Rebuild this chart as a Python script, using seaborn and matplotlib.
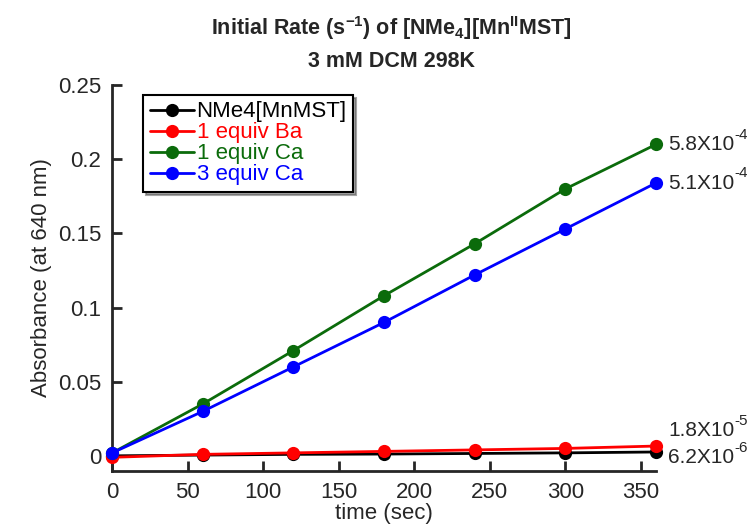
import matplotlib
matplotlib.use("Agg")
import matplotlib.pyplot as plt
import seaborn as sns
import pandas as pd

time = [0, 60, 120, 180, 240, 300, 360]
abs_nme4 = [0.0, 0.0005, 0.001, 0.0012, 0.0016, 0.002, 0.0026]
abs_ba1 = [-0.001, 0.001, 0.002, 0.003, 0.004, 0.005, 0.0066]
abs_ca1 = [0.002, 0.035, 0.071, 0.108, 0.143, 0.180, 0.210]
abs_ca3 = [0.002, 0.030, 0.060, 0.090, 0.122, 0.153, 0.184]
series = ["NMe4[MnMST]", "1 equiv Ba", "1 equiv Ca", "3 equiv Ca"]
colors = ["#000000", "#ff0000", "#0b6b0b", "#0000ff"]
rate_base = ["5.8X10", "5.1X10", "1.8X10", "6.2X10"]
rate_exp = ["-4", "-4", "-5", "-6"]

rows = []
for name, vals in zip(series, [abs_nme4, abs_ba1, abs_ca1, abs_ca3]):
    for t, v in zip(time, vals):
        rows.append({"time": t, "abs": v, "series": name})
df = pd.DataFrame(rows)

sns.set_style("ticks")
plt.rcParams["font.family"] = ["Liberation Sans", "DejaVu Sans"]
plt.rcParams["mathtext.fontset"] = "custom"
plt.rcParams["mathtext.rm"] = "Liberation Sans"
plt.rcParams["mathtext.it"] = "Liberation Sans"
plt.rcParams["mathtext.bf"] = "Liberation Sans:bold"
plt.rcParams["xtick.direction"] = "in"
plt.rcParams["ytick.direction"] = "in"

fig = plt.figure(figsize=(7.53, 5.29), dpi=100)
ax = fig.add_axes([0.149, 0.110, 0.722, 0.729])

sns.lineplot(data=df, x="time", y="abs", hue="series", hue_order=series,
             palette=colors, marker="o", markersize=9.5, markeredgewidth=0,
             linewidth=2, ax=ax, clip_on=False, zorder=3)

ax.set_xlim(0, 360)
ax.set_ylim(-0.0101, 0.25)
ax.set_xticks([0, 50, 100, 150, 200, 250, 300, 350])
ax.set_xticklabels(["0", "50", "100", "150", "200", "250", "300", "350"])
ax.set_yticks([0, 0.05, 0.1, 0.15, 0.2, 0.25])
ax.set_yticklabels(["0", "0.05", "0.1", "0.15", "0.2", "0.25"])
ax.tick_params(direction="in", length=7, width=2, labelsize=16, pad=8)
for s in ["top", "right"]:
    ax.spines[s].set_visible(False)
for s in ["left", "bottom"]:
    ax.spines[s].set_linewidth(2)
ax.set_xlabel("time (sec)", fontsize=16, labelpad=0)
ax.set_ylabel("Absorbance (at 640 nm)", fontsize=16, labelpad=4)

fig.text(0.52, 0.947, r"Initial Rate (s$^{\mathbf{-1}}$) of [NMe$_{\mathbf{4}}$][Mn$^{\mathbf{II}}$MST]",
         ha="center", va="center", fontsize=15.5, fontweight="bold")
fig.text(0.52, 0.883, "3 mM DCM 298K", ha="center", va="center",
         fontsize=15.5, fontweight="bold")

# rate annotations (base text plus raised exponent with a plain hyphen)
ends = [abs_ca1[-1], abs_ca3[-1], abs_ba1[-1], abs_nme4[-1]]
dys = [0, 0, 11, -4]
for base, ex, yv, dy in zip(rate_base, rate_exp, ends, dys):
    ax.annotate(base, xy=(360, yv), xytext=(9, dy), textcoords="offset points",
                va="center", ha="left", fontsize=15, annotation_clip=False)
    ax.annotate(ex, xy=(360, yv), xytext=(9 + 47.5, dy + 7), textcoords="offset points",
                va="center", ha="left", fontsize=11, annotation_clip=False)

leg = ax.legend(loc="upper left", bbox_to_anchor=(0.057, 0.975), frameon=True,
                fancybox=False, shadow=True, fontsize=16, handlelength=2.0,
                handletextpad=0.1, borderpad=0.3, labelspacing=0.0,
                borderaxespad=0)
leg.get_frame().set_edgecolor("black")
leg.get_frame().set_linewidth(1.5)
for txt, c in zip(leg.get_texts(), colors):
    txt.set_color(c)

fig.savefig("out.png", dpi=100)
